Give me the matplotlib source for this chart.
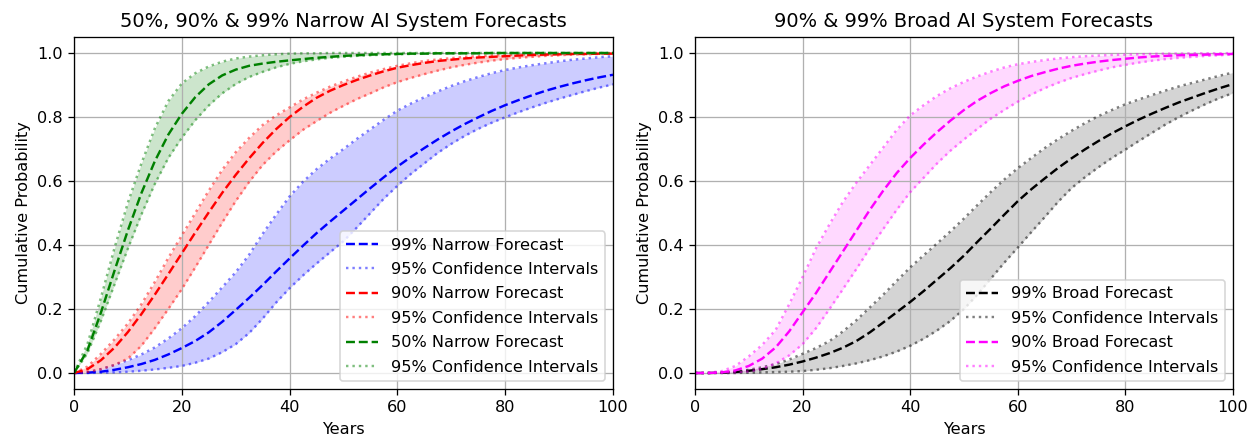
import numpy as np
import matplotlib
matplotlib.use('Agg')
import matplotlib.pyplot as plt

years = np.linspace(0, 100, 41)

# narrow AI forecasts (left panel)
narrow99_mid = [0, .001, .004, .01, .018, .028, .041, .058, .078, .1, .127, .16, .197, .235, .275, .317,
                .358, .398, .437, .473, .508, .543, .578, .612, .645, .675, .703, .73, .755, .778, .799,
                .819, .837, .853, .868, .882, .894, .905, .915, .924, .932]
narrow99_hi = [0, .002, .012, .025, .04, .058, .08, .108, .14, .178, .222, .268, .315, .37, .435, .495,
               .552, .598, .637, .67, .70, .732, .762, .792, .82, .842, .862, .88, .897, .912, .925,
               .937, .947, .955, .962, .968, .974, .979, .983, .987, .99]
narrow99_lo = [0, 0, .001, .002, .004, .007, .011, .016, .022, .032, .045, .065, .09, .125, .17, .22,
               .265, .305, .342, .377, .412, .455, .5, .545, .585, .622, .655, .688, .716, .741, .763,
               .782, .799, .815, .83, .844, .857, .869, .881, .892, .902]

narrow90_mid = [0, .012, .040, .079, .128, .184, .245, .309, .374, .439, .502, .563, .619, .671, .719,
                .762, .800, .832, .860, .882, .900, .916, .930, .943, .954, .962, .969, .975, .979,
                .983, .986, .988, .990, .992, .994, .995, .996, .997, .997, .998, .998]
narrow90_hi = [0, .02, .06, .105, .155, .215, .285, .36, .43, .50, .57, .635, .69, .735, .775, .805,
               .83, .855, .876, .895, .911, .926, .939, .95, .96, .968, .975, .98, .984, .988, .99,
               .992, .994, .995, .996, .997, .998, .998, .999, .999, .999]
narrow90_lo = [0, .003, .012, .025, .045, .085, .14, .2, .262, .33, .4, .47, .537, .597, .65, .692,
               .727, .76, .787, .813, .835, .856, .874, .893, .909, .922, .934, .945, .955, .963, .97,
               .976, .981, .985, .988, .991, .993, .995, .996, .997, .998]

narrow50_mid = [0, .071, .189, .319, .446, .562, .662, .745, .810, .862, .902, .930, .948, .960, .967,
                .9725, .977, .981, .985, .988, .991, .993, .995, .996, .997, .998, .998, .999, .999,
                .999, .999, 1, 1, 1, 1, 1, 1, 1, 1, 1, 1]
narrow50_hi = [0, .091, .236, .390, .533, .655, .765, .850, .905, .937, .958, .973, .983, .989, .993,
               .996, .998, .999, .999, 1, 1, 1, 1, 1, 1, 1, 1, 1, 1, 1, 1, 1, 1, 1, 1, 1, 1, 1, 1, 1, 1]
narrow50_lo = [0, .062, .163, .276, .389, .495, .591, .672, .735, .790, .836, .874, .903, .925, .941,
               .955, .966, .974, .980, .985, .988, .991, .993, .995, .996, .997, .998, .999, .999,
               .999, 1, 1, 1, 1, 1, 1, 1, 1, 1, 1, 1]

# broad AI forecasts (right panel)
broad99_mid = [0, 0, .001, .003, .007, .012, .018, .026, .036, .048, .062, .079, .1, .127, .158, .19,
               .222, .256, .292, .328, .367, .41, .452, .495, .537, .574, .608, .641, .671, .699, .725,
               .749, .771, .792, .811, .829, .846, .861, .876, .89, .903]
broad99_hi = [0, 0, .001, .004, .01, .018, .028, .042, .06, .078, .1, .13, .165, .205, .245, .288,
              .33, .368, .405, .443, .483, .525, .566, .605, .64, .672, .703, .731, .757, .781, .803,
              .822, .84, .855, .869, .883, .896, .907, .918, .929, .939]
broad99_lo = [0, 0, 0, 0, .001, .002, .003, .004, .006, .01, .015, .022, .03, .04, .052, .067,
              .085, .107, .133, .163, .2, .245, .295, .345, .392, .44, .487, .535, .578, .612, .643,
              .672, .698, .725, .751, .777, .8, .821, .841, .859, .875]

broad90_mid = [0, 0, .002, .008, .022, .045, .08, .13, .19, .25, .315, .38, .445, .51, .57, .625,
               .672, .714, .753, .789, .822, .851, .875, .896, .913, .928, .94, .951, .96, .967, .973,
               .978, .982, .986, .989, .991, .993, .994, .995, .996, .997]
broad90_hi = [0, .001, .006, .022, .052, .088, .135, .215, .3, .39, .465, .535, .595, .65, .705, .76,
              .805, .837, .866, .89, .91, .927, .942, .955, .965, .972, .978, .983, .987, .99, .992,
              .994, .995, .996, .997, .998, .998, .999, .999, .999, 1.0]
broad90_lo = [0, 0, .001, .002, .005, .013, .03, .055, .09, .14, .2, .262, .325, .39, .45, .51,
              .565, .61, .655, .695, .73, .763, .795, .822, .848, .87, .89, .907, .922, .934, .945,
              .955, .963, .97, .976, .981, .985, .988, .991, .993, .995]


def forecast(ax, mid, lo, hi, color, label, fill_alpha=0.2):
    ax.plot(years, mid, '--', color=color, label=label)
    ax.plot(years, hi, ':', color=color, alpha=0.5, label='95% Confidence Intervals')
    ax.plot(years, lo, ':', color=color, alpha=0.5)
    ax.fill_between(years, lo, hi, color=color, alpha=fill_alpha, linewidth=0)


DPI = 116
fig = plt.figure(figsize=(1253 / DPI, 439 / DPI), dpi=DPI)
ax1 = fig.add_axes([74 / 1253, 50 / 439, 539 / 1253, 352 / 439])
ax2 = fig.add_axes([695 / 1253, 50 / 439, 538 / 1253, 352 / 439])

forecast(ax1, narrow99_mid, narrow99_lo, narrow99_hi, 'blue', '99% Narrow Forecast')
forecast(ax1, narrow90_mid, narrow90_lo, narrow90_hi, 'red', '90% Narrow Forecast')
forecast(ax1, narrow50_mid, narrow50_lo, narrow50_hi, 'green', '50% Narrow Forecast')
ax1.set_title('50%, 90% & 99% Narrow AI System Forecasts')

forecast(ax2, broad99_mid, broad99_lo, broad99_hi, 'black', '99% Broad Forecast', fill_alpha=0.17)
forecast(ax2, broad90_mid, broad90_lo, broad90_hi, 'magenta', '90% Broad Forecast', fill_alpha=0.15)
ax2.set_title('90% & 99% Broad AI System Forecasts')

for ax in (ax1, ax2):
    ax.set_xlim(0, 100)
    ax.set_ylim(-0.05, 1.05)
    ax.set_xlabel('Years')
    ax.set_ylabel('Cumulative Probability')
    ax.grid(True)
    ax.legend(loc='lower right', labelspacing=0.58)

fig.savefig('out.png', dpi=DPI)
